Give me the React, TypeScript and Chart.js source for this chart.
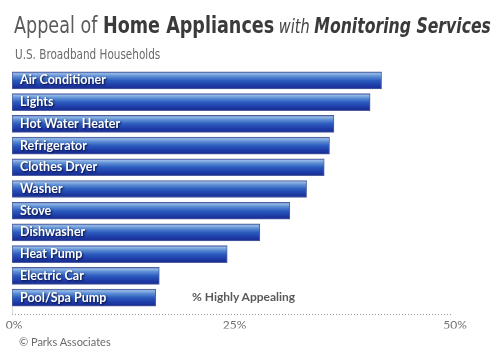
import React, { useEffect, useRef } from "react";
import { Chart, registerables } from "chart.js";

Chart.register(...registerables);

const categories = [
  "Air Conditioner",
  "Lights",
  "Hot Water Heater",
  "Refrigerator",
  "Clothes Dryer",
  "Washer",
  "Stove",
  "Dishwasher",
  "Heat Pump",
  "Electric Car",
  "Pool/Spa Pump",
];
const values = [41.9, 40.6, 36.5, 36.0, 35.4, 33.4, 31.5, 28.1, 24.4, 16.7, 16.3];
const xTickValues = [0, 25, 50];
const xTickLabels = ["0%", "25%", "50%"];

const BAR_H = 17;

export default function App() {
  const ref = useRef<HTMLCanvasElement | null>(null);

  useEffect(() => {
    const canvas = ref.current;
    if (!canvas) return;

    const textShadow = {
      id: "textShadow",
      afterDatasetsDraw(chart: any) {
        const ctx = chart.ctx;
        ctx.shadowColor = "rgba(0,0,40,0.85)";
        ctx.shadowBlur = 2;
        ctx.shadowOffsetX = 1;
        ctx.shadowOffsetY = 1;
      },
      afterDraw(chart: any) {
        const ctx = chart.ctx;
        ctx.shadowColor = "rgba(0,0,0,0)";
        ctx.shadowBlur = 0;
        ctx.shadowOffsetX = 0;
        ctx.shadowOffsetY = 0;
        const a = chart.chartArea;
        ctx.save();
        ctx.strokeStyle = "#9a9a9a";
        ctx.lineWidth = 1;
        ctx.setLineDash([1, 2]);
        ctx.beginPath();
        const y = Math.round(a.bottom + 6) + 0.5;
        ctx.moveTo(a.left, y);
        ctx.lineTo(a.right, y);
        ctx.stroke();
        ctx.setLineDash([]);
        ctx.strokeStyle = "#d8d8d8";
        ctx.beginPath();
        ctx.moveTo(a.left + 0.5, a.bottom - 2);
        ctx.lineTo(a.left + 0.5, y);
        ctx.stroke();
        ctx.restore();
      },
    };

    const chart = new Chart(canvas, {
      type: "bar",
      data: {
        labels: categories,
        datasets: [
          {
            data: values,
            barThickness: BAR_H,
            borderWidth: 1,
            borderSkipped: false,
            borderColor: "#4f5f9e",
            backgroundColor: (c: any) => {
              const ch = c.chart;
              const ys = ch.scales && ch.scales.y;
              if (!ys || c.type !== "data") return "#2a55b5";
              const yc = ys.getPixelForValue(c.dataIndex);
              if (!Number.isFinite(yc)) return "#2a55b5";
              const g = ch.ctx.createLinearGradient(0, yc - BAR_H / 2, 0, yc + BAR_H / 2);
              g.addColorStop(0, "#5a74b4");
              g.addColorStop(0.1, "#93b8e8");
              g.addColorStop(0.25, "#5f90d4");
              g.addColorStop(0.5, "#2c5cbf");
              g.addColorStop(0.78, "#1e3ca8");
              g.addColorStop(1, "#192a90");
              return g;
            },
          },
        ],
      },
      options: {
        indexAxis: "y",
        animation: false,
        responsive: false,
        layout: { padding: { left: 12, right: 47, top: 69.6, bottom: 29.6 } },
        plugins: {
          legend: { display: false },
          title: { display: false },
          tooltip: { enabled: false },
        },
        scales: {
          x: {
            type: "linear",
            min: 0,
            max: 50,
            afterFit: (s: any) => {
              s.height = 20;
              s.paddingLeft = 0;
              s.paddingRight = 0;
            },
            afterBuildTicks: (s: any) => {
              s.ticks = xTickValues.map((v) => ({ value: v }));
            },
            grid: { display: false, drawTicks: false },
            border: { display: false },
            ticks: {
              padding: 10,
              labelOffset: 2,
              color: "#707070",
              font: { family: "Lato, 'Open Sans', sans-serif", size: 12 },
              callback: (v: any) => xTickLabels[xTickValues.indexOf(Number(v))] ?? "",
            },
          },
          y: {
            type: "category",
            afterFit: (s: any) => {
              s.width = 0;
              s.paddingTop = 0;
              s.paddingBottom = 0;
            },
            grid: { display: false, drawTicks: false },
            border: { display: false },
            ticks: {
              z: 1,
              mirror: true,
              padding: 8,
              color: "#ffffff",
              font: { family: "Lato, 'Open Sans', sans-serif", size: 12.5, weight: "bold" },
            },
          },
        },
      },
      plugins: [textShadow],
    } as any);

    return () => chart.destroy();
  }, []);

  const narrow = "'DejaVu Sans Condensed', 'Liberation Sans Narrow', sans-serif";

  return (
    <div
      style={{
        position: "fixed",
        left: 0,
        top: 0,
        width: 500,
        height: 358,
        background: "#ffffff",
        overflow: "hidden",
      }}
    >
      <canvas ref={ref} width={500} height={358} style={{ position: "absolute", left: 0, top: 0 }} />
      <div
        style={{
          position: "absolute",
          left: 14,
          top: 12,
          fontFamily: narrow,
          fontSize: 23,
          lineHeight: "26px",
          whiteSpace: "nowrap",
          color: "#555",
          transform: "scaleX(0.85)",
          transformOrigin: "0 0",
        }}
      >
        <span style={{ color: "#5a5a5a" }}>Appeal of </span>
        <span style={{ fontWeight: "bold", color: "#3a3a3a" }}>Home Appliances</span>
        <span style={{ fontStyle: "italic", color: "#444", fontSize: 19 }}> with </span>
        <span style={{ fontStyle: "italic", fontWeight: "bold", color: "#3a3a3a", fontSize: 20.5 }}>
          Monitoring Services
        </span>
      </div>
      <div
        style={{
          position: "absolute",
          left: 15,
          top: 46,
          fontFamily: narrow,
          fontSize: 14,
          lineHeight: "16px",
          whiteSpace: "nowrap",
          color: "#6a6a6a",
          transform: "scaleX(0.83)",
          transformOrigin: "0 0",
        }}
      >
        U.S. Broadband Households
      </div>
      <div
        style={{
          position: "absolute",
          left: 192,
          top: 289,
          fontFamily: "Lato, 'Open Sans', sans-serif",
          fontWeight: "bold",
          fontSize: 12,
          lineHeight: "16px",
          whiteSpace: "nowrap",
          color: "#5a5a5a",
        }}
      >
        % Highly Appealing
      </div>
      <div
        style={{
          position: "absolute",
          left: 19,
          top: 334,
          fontFamily: "Lato, 'Open Sans', sans-serif",
          fontSize: 11,
          lineHeight: "16px",
          whiteSpace: "nowrap",
          color: "#6a6a6a",
        }}
      >
        © Parks Associates
      </div>
    </div>
  );
}
